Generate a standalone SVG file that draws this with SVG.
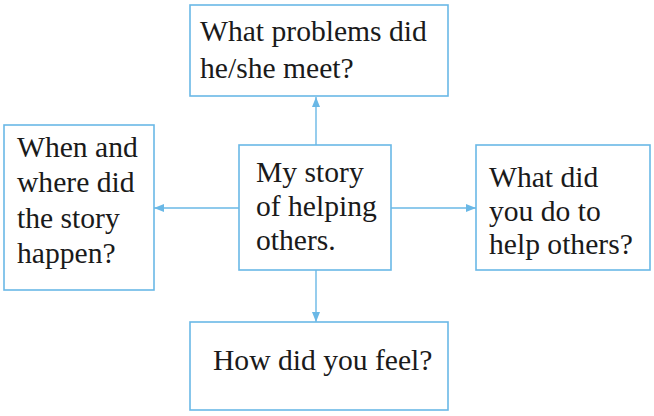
<svg xmlns="http://www.w3.org/2000/svg" width="654" height="416" viewBox="0 0 654 416">
<style>
.box{fill:#fff;stroke:#6ab8e6;stroke-width:1.6}
.t{font-family:"Liberation Serif","Times New Roman",serif;font-size:29.6px;fill:#1a1a1a}
.c{stroke:#6ab8e6;stroke-width:1.4;fill:none}
</style>
<defs>
<marker id="ah" viewBox="0 0 10 8" refX="10" refY="4" markerWidth="10" markerHeight="8" markerUnits="userSpaceOnUse" orient="auto">
<path d="M0,0 L10,4 L0,8 Z" fill="#6ab8e6"/>
</marker>
</defs>
<rect width="654" height="416" fill="#fff"/>
<g id="connectors">
<line class="c" x1="316" y1="145" x2="316" y2="97" marker-end="url(#ah)"/>
<line class="c" x1="316" y1="270" x2="316" y2="322" marker-end="url(#ah)"/>
<line class="c" x1="239" y1="208" x2="154" y2="208" marker-end="url(#ah)"/>
<line class="c" x1="391" y1="208" x2="476" y2="208" marker-end="url(#ah)"/>
</g>
<g id="top">
<rect class="box" x="190" y="5" width="258" height="91"/>
<text class="t" x="200" y="41">What problems did</text>
<text class="t" x="200" y="78">he/she meet?</text>
</g>
<g id="left">
<rect class="box" x="4" y="125" width="150" height="165"/>
<text class="t" x="17" y="157">When and</text>
<text class="t" x="17" y="192">where did</text>
<text class="t" x="17" y="228">the story</text>
<text class="t" x="17" y="263">happen?</text>
</g>
<g id="center">
<rect class="box" x="239" y="145" width="152" height="125"/>
<text class="t" x="256" y="182">My story</text>
<text class="t" x="256" y="216">of helping</text>
<text class="t" x="256" y="250">others.</text>
</g>
<g id="right">
<rect class="box" x="476" y="145" width="174" height="125"/>
<text class="t" x="489" y="187">What did</text>
<text class="t" x="489" y="221">you do to</text>
<text class="t" x="489" y="254">help others?</text>
</g>
<g id="bottom">
<rect class="box" x="190" y="322" width="258" height="88"/>
<text class="t" x="213" y="370">How did you feel?</text>
</g>
</svg>
